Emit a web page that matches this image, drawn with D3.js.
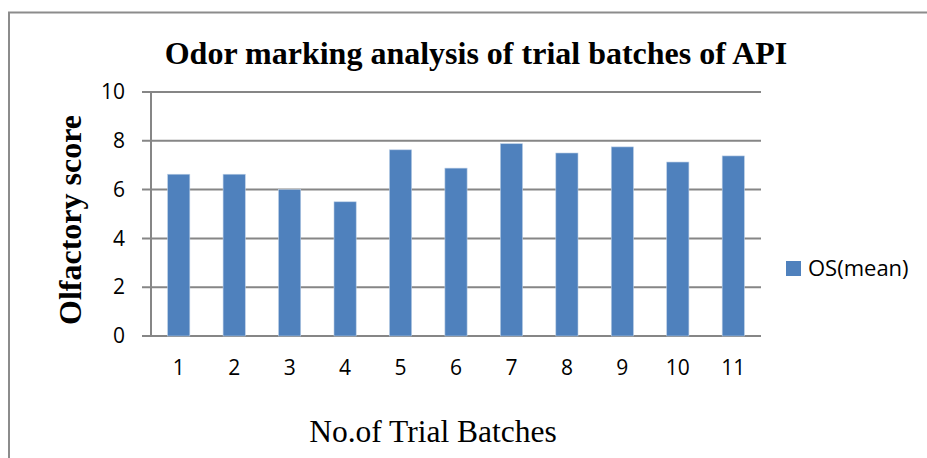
<!DOCTYPE html>
<html>
<head>
<meta charset="utf-8">
<script src="https://cdn.jsdelivr.net/npm/d3@7"></script>
<style>
  body { margin: 0; background: #fff; }
  .tick text { font-family: "Open Sans", sans-serif; font-size: 21px; fill: #000; }
</style>
</head>
<body>
<div class="chart"></div>
<script>
// data
const batches = ["1", "2", "3", "4", "5", "6", "7", "8", "9", "10", "11"];
const osMean = [6.63, 6.63, 6.0, 5.5, 7.63, 6.88, 7.88, 7.5, 7.75, 7.13, 7.38];
const yTicks = [0, 2, 4, 6, 8, 10];
const seriesName = "OS(mean)";

const W = 927, H = 458;
const margin = { top: 92, right: 166, bottom: 122, left: 151 };
const width = W - margin.left - margin.right;
const height = H - margin.top - margin.bottom;

const root = d3.select(".chart")
  .append("svg")
  .attr("width", W)
  .attr("height", H);

// outer frame (left + top edges visible)
root.append("path")
  .attr("d", "M9,460 V12.5 H930")
  .attr("fill", "none")
  .attr("stroke", "#8c8c8c")
  .attr("stroke-width", 2);

const svg = root.append("g")
  .attr("transform", "translate(" + margin.left + "," + margin.top + ")");

const xScale = d3.scaleBand()
  .domain(batches)
  .range([0, width])
  .paddingInner(0.6)
  .paddingOuter(0.3);

const yScale = d3.scaleLinear()
  .domain([0, 10])
  .range([height, 0]);

// gridlines
svg.append("g")
  .attr("class", "grid")
  .selectAll("line")
  .data(yTicks)
  .join("line")
  .attr("x1", -9)
  .attr("x2", width)
  .attr("y1", d => yScale(d))
  .attr("y2", d => yScale(d))
  .attr("stroke", "#868686")
  .attr("stroke-width", 2);

// y axis line
svg.append("line")
  .attr("x1", 0).attr("x2", 0)
  .attr("y1", 0).attr("y2", height)
  .attr("stroke", "#868686")
  .attr("stroke-width", 2);

const yAxis = d3.axisLeft(yScale)
  .tickValues(yTicks)
  .tickSize(0)
  .tickPadding(26);

svg.append("g")
  .attr("class", "axis y-axis")
  .call(yAxis)
  .call(g => g.select(".domain").remove());

// bars
svg.selectAll(".bar")
  .data(osMean)
  .join("rect")
  .attr("class", "bar")
  .attr("x", (d, i) => xScale(batches[i]))
  .attr("y", d => yScale(d))
  .attr("width", xScale.bandwidth())
  .attr("height", d => height - yScale(d))
  .attr("fill", "#4f81bd")
  .attr("stroke", "#b9cde5")
  .attr("stroke-width", 0.6);

const xAxis = d3.axisBottom(xScale)
  .tickSize(0)
  .tickPadding(24);

svg.append("g")
  .attr("class", "axis x-axis")
  .attr("transform", `translate(0, ${height})`)
  .call(xAxis)
  .call(g => g.select(".domain").remove());

// titles
root.append("text")
  .attr("x", 476)
  .attr("y", 64)
  .attr("text-anchor", "middle")
  .attr("font-family", "'Liberation Serif', 'Times New Roman', serif")
  .attr("font-weight", "bold")
  .attr("font-size", 32)
  .text("Odor marking analysis of trial batches of API");

root.append("text")
  .attr("transform", "translate(81,220) rotate(-90)")
  .attr("text-anchor", "middle")
  .attr("font-family", "'Liberation Serif', 'Times New Roman', serif")
  .attr("font-weight", "bold")
  .attr("font-size", 32)
  .text("Olfactory score");

root.append("text")
  .attr("x", 433)
  .attr("y", 442)
  .attr("text-anchor", "middle")
  .attr("font-family", "'Liberation Serif', 'Times New Roman', serif")
  .attr("font-size", 31.5)
  .text("No.of Trial Batches");

// legend
const legend = root.append("g")
  .attr("transform", "translate(786,261)");

legend.append("rect")
  .attr("width", 15)
  .attr("height", 15)
  .attr("fill", "#4f81bd");

legend.append("text")
  .attr("x", 22)
  .attr("y", 15)
  .attr("font-family", "'Open Sans', sans-serif")
  .attr("font-size", 22)
  .text(seriesName);
</script>
</body>
</html>
